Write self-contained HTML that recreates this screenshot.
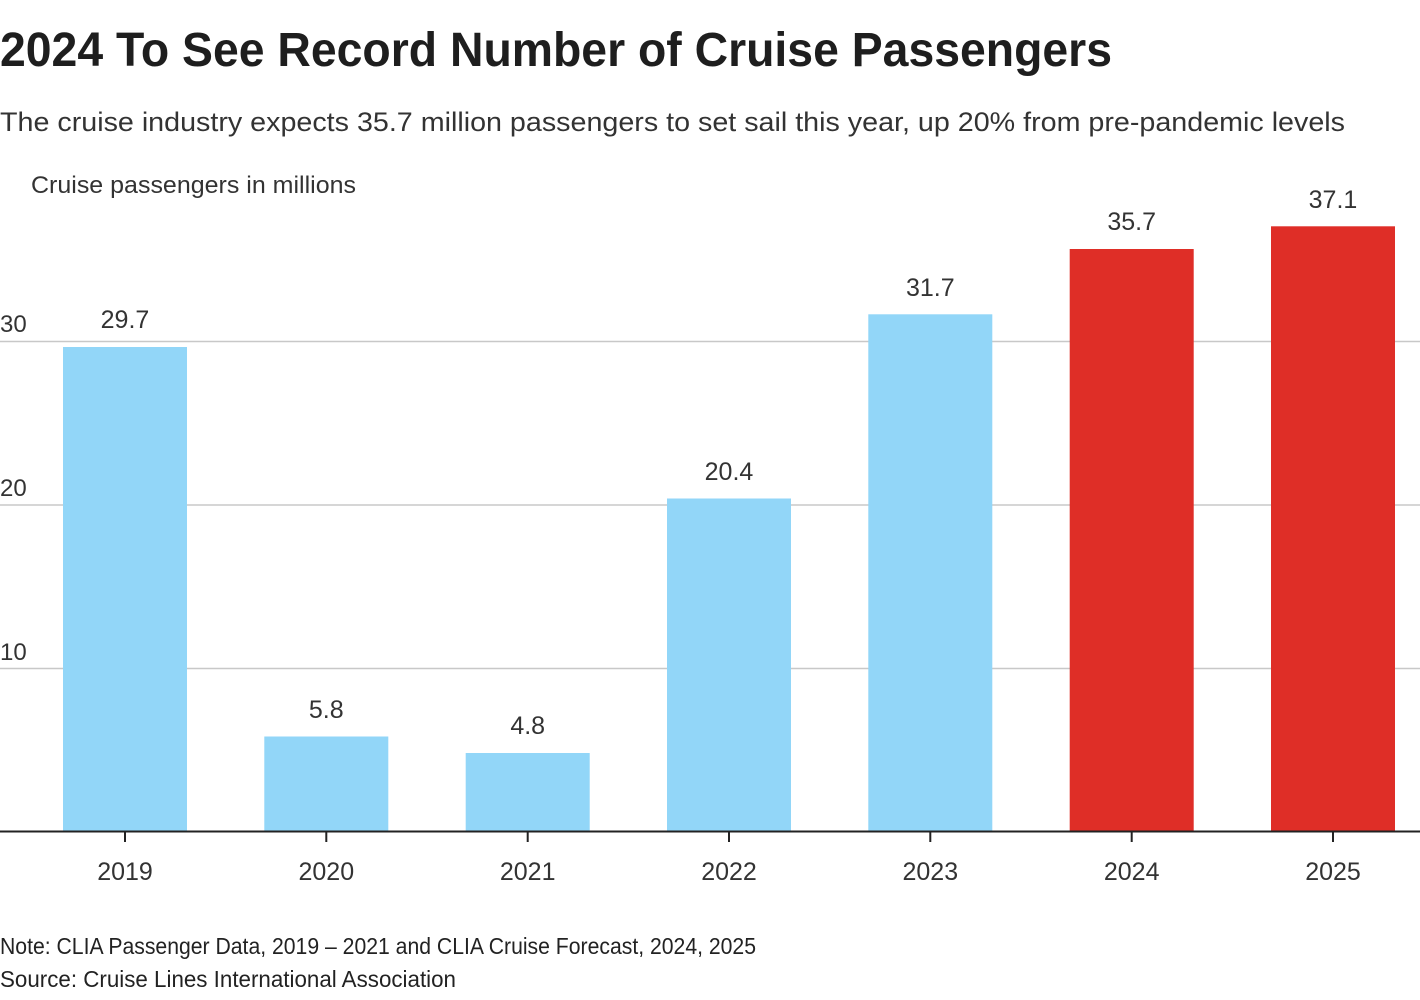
<!DOCTYPE html>
<html><head><meta charset="utf-8"><style>
html,body{margin:0;padding:0;background:#fff;}
svg{display:block;}
text{font-family:"Liberation Sans",sans-serif;}
</style></head><body>
<svg width="1420" height="1000" viewBox="0 0 1420 1000" xmlns="http://www.w3.org/2000/svg">
<rect width="1420" height="1000" fill="#fff"/>
<text x="0" y="66" font-size="48" font-weight="bold" fill="#1e1e1e" textLength="1112" lengthAdjust="spacingAndGlyphs">2024 To See Record Number of Cruise Passengers</text>
<text x="0" y="131" font-size="27" fill="#333" textLength="1345" lengthAdjust="spacingAndGlyphs">The cruise industry expects 35.7 million passengers to set sail this year, up 20% from pre-pandemic levels</text>
<text x="31" y="193" font-size="24" fill="#333" textLength="325" lengthAdjust="spacingAndGlyphs">Cruise passengers in millions</text>

<g stroke="#c8c8c8" stroke-width="1.6">
<line x1="0" y1="341.5" x2="1420" y2="341.5"/>
<line x1="0" y1="505" x2="1420" y2="505"/>
<line x1="0" y1="668.5" x2="1420" y2="668.5"/>
</g>
<g font-size="24" fill="#333">
<text x="0" y="332">30</text>
<text x="0" y="496">20</text>
<text x="0" y="660">10</text>
</g>

<g fill="#92d6f8">
<rect x="63" y="347" width="124" height="484"/>
<rect x="264.3" y="736.5" width="124" height="94.5"/>
<rect x="465.7" y="753" width="124" height="78"/>
<rect x="667" y="498.5" width="124" height="332.5"/>
<rect x="868.3" y="314.3" width="124" height="516.7"/>
</g>
<g fill="#df2e27">
<rect x="1069.7" y="249" width="124" height="582"/>
<rect x="1271" y="226.3" width="124" height="604.7"/>
</g>

<g font-size="25" fill="#333" text-anchor="middle">
<text x="125" y="328">29.7</text>
<text x="326.3" y="718">5.8</text>
<text x="527.7" y="734">4.8</text>
<text x="729" y="480">20.4</text>
<text x="930.3" y="296">31.7</text>
<text x="1131.7" y="230">35.7</text>
<text x="1333" y="208">37.1</text>
</g>

<line x1="0" y1="831.5" x2="1420" y2="831.5" stroke="#222" stroke-width="2"/>
<g stroke="#222" stroke-width="2">
<line x1="125" y1="832" x2="125" y2="842"/>
<line x1="326.3" y1="832" x2="326.3" y2="842"/>
<line x1="527.7" y1="832" x2="527.7" y2="842"/>
<line x1="729" y1="832" x2="729" y2="842"/>
<line x1="930.3" y1="832" x2="930.3" y2="842"/>
<line x1="1131.7" y1="832" x2="1131.7" y2="842"/>
<line x1="1333" y1="832" x2="1333" y2="842"/>
</g>
<g font-size="25" fill="#333" text-anchor="middle">
<text x="125" y="880">2019</text>
<text x="326.3" y="880">2020</text>
<text x="527.7" y="880">2021</text>
<text x="729" y="880">2022</text>
<text x="930.3" y="880">2023</text>
<text x="1131.7" y="880">2024</text>
<text x="1333" y="880">2025</text>
</g>

<text x="0" y="954" font-size="23" fill="#222" textLength="756" lengthAdjust="spacingAndGlyphs">Note: CLIA Passenger Data, 2019 – 2021 and CLIA Cruise Forecast, 2024, 2025</text>
<text x="0" y="987" font-size="23" fill="#222" textLength="456" lengthAdjust="spacingAndGlyphs">Source: Cruise Lines International Association</text>
</svg>
</body></html>
